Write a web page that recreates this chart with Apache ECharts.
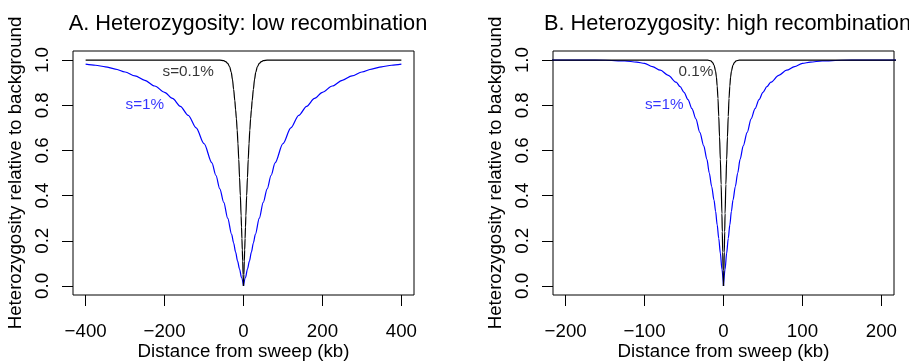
<!DOCTYPE html>
<html><head><meta charset="utf-8">
<script src="https://cdn.jsdelivr.net/npm/echarts@6/dist/echarts.min.js"></script>
<style>html,body{margin:0;padding:0;background:#fff}#c{width:909px;height:363px}</style>
</head><body><div id="c"></div>
<script>
// ---- text ----
const titles = ['A. Heterozygosity: low recombination', 'B. Heterozygosity: high recombination'];
const xName = 'Distance from sweep (kb)';
const yName = 'Heterozygosity relative to background';
// ---- ticks ----
const xTicksA = [-400, -200, 0, 200, 400];
const xTicksB = [-200, -100, 0, 100, 200];
const yTicks = [0, 0.2, 0.4, 0.6, 0.8, 1.0];
// ---- data (distance from sweep in kb, one side; curves are symmetric) ----
const aBlueDist = [0, 5, 10, 15, 20, 25, 30, 40, 50, 60, 70, 80, 100, 120, 140, 160, 180, 200, 225, 250, 275, 300, 325, 350, 375, 400];
const aBlueH    = [0, 0.037, 0.075, 0.11, 0.15, 0.19, 0.228, 0.30, 0.37, 0.43, 0.49, 0.545, 0.63, 0.70, 0.755, 0.795, 0.83, 0.857, 0.885, 0.91, 0.93, 0.947, 0.96, 0.97, 0.977, 0.982];
const aBlackDist = [0, 1, 2, 3, 4, 5, 6, 8, 10, 12, 14, 16, 18, 20, 22, 25, 28, 31, 35, 40, 45, 50, 60, 100, 200, 300, 400];
const aBlackH    = [0, 0.05, 0.11, 0.16, 0.21, 0.26, 0.31, 0.40, 0.48, 0.56, 0.63, 0.69, 0.74, 0.78, 0.82, 0.87, 0.915, 0.945, 0.97, 0.985, 0.993, 0.997, 1.0, 1.0, 1.0, 1.0, 1.0];
const bBlueDist = [0, 2, 4, 6, 8, 10, 12, 15, 18, 21, 25, 30, 35, 40, 45, 50, 55, 60, 70, 80, 90, 100, 110, 125, 150, 175, 200, 250];
const bBlueH    = [0, 0.075, 0.145, 0.21, 0.27, 0.33, 0.38, 0.44, 0.50, 0.56, 0.62, 0.68, 0.74, 0.785, 0.825, 0.857, 0.882, 0.902, 0.932, 0.955, 0.971, 0.985, 0.991, 0.996, 0.999, 1.0, 1.0, 1.0];
const bBlackDist = [0, 0.5, 1, 1.5, 2, 3, 4, 5, 6, 7, 8, 9, 10, 12, 14, 16, 20, 30, 100, 200, 250];
const bBlackH    = [0, 0.07, 0.15, 0.24, 0.32, 0.45, 0.56, 0.66, 0.75, 0.83, 0.885, 0.925, 0.95, 0.978, 0.99, 0.996, 1.0, 1.0, 1.0, 1.0, 1.0];
// ---- annotations ----
const notesA = [{ x: -140, y: 0.95, text: 's=0.1%', color: '#000000' }, { x: -250, y: 0.8, text: 's=1%', color: '#0000ff' }];
const notesB = [{ x: -35, y: 0.95, text: '0.1%', color: '#000000' }, { x: -75, y: 0.8, text: 's=1%', color: '#0000ff' }];

const FONT = "'Liberation Sans', Arial, Helvetica, sans-serif";
const BLUE = '#0000ff', BLACK = '#000000';

function half(dist, h, sign) {
  const pts = dist.map((d, i) => [sign * d, h[i]]);
  return sign < 0 ? pts.reverse() : pts;
}
function lineSeries(dist, h, color, gi) {
  return [-1, 1].map(sign => ({
    type: 'line', xAxisIndex: gi, yAxisIndex: gi, data: half(dist, h, sign),
    showSymbol: false, symbol: 'none', smooth: 0.3, smoothMonotone: 'x', clip: true,
    lineStyle: { color: color, width: 1.2 }, silent: true, z: color === BLACK ? 3 : 2
  }));
}
function noteSeries(notes, gi) {
  return {
    type: 'scatter', xAxisIndex: gi, yAxisIndex: gi, symbolSize: 1, silent: true,
    itemStyle: { color: 'rgba(0,0,0,0)' },
    data: notes.map(n => ({ value: [n.x, n.y], label: { show: true, position: 'inside', formatter: n.text, color: n.color, fontSize: 15.3, fontFamily: FONT } })),
    z: 5
  };
}
const fmtX = v => (v < 0 ? '\u2212' + Math.abs(v) : String(v));
function xAxis(gi, lim, ticks) {
  return {
    type: 'value', gridIndex: gi, min: -lim, max: lim,
    name: xName, nameLocation: 'middle', nameGap: 47, nameMoveOverlap: false,
    nameTextStyle: { color: '#000', fontSize: 18.7, fontFamily: FONT },
    axisLine: { show: false, onZero: false },
    axisTick: { show: true, customValues: ticks, length: 11, lineStyle: { color: '#000', width: 1 } },
    axisLabel: { customValues: ticks, formatter: fmtX, color: '#000', fontSize: 18.7, fontFamily: FONT, margin: 27 },
    splitLine: { show: false }
  };
}
function yAxis(gi) {
  return {
    type: 'value', gridIndex: gi, min: -0.04, max: 1.04,
    name: yName, nameLocation: 'middle', nameGap: 48, nameRotate: 90, nameMoveOverlap: false,
    nameTextStyle: { color: '#000', fontSize: 18.7, fontFamily: FONT },
    axisLine: { show: false, onZero: false },
    axisTick: { show: true, customValues: yTicks, length: 11, lineStyle: { color: '#000', width: 1 } },
    axisLabel: { customValues: yTicks, formatter: v => v.toFixed(1), rotate: 90, color: '#000', fontSize: 18.7, fontFamily: FONT, margin: 21 },
    splitLine: { show: false }
  };
}

const chart = echarts.init(document.getElementById('c'), null, { renderer: 'canvas' });
chart.setOption({
  animation: false,
  backgroundColor: '#ffffff',
  title: [
    { text: titles[0], left: 243, top: 8, textAlign: 'center', textStyle: { fontSize: 21.8, fontWeight: 'normal', color: '#000', fontFamily: FONT } },
    { text: titles[1], left: 722.5, top: 8, textAlign: 'center', textStyle: { fontSize: 21.8, fontWeight: 'normal', color: '#000', fontFamily: FONT } }
  ],
  grid: [
    { left: 73, top: 51, width: 341, height: 244, show: true, borderColor: '#000', borderWidth: 1, backgroundColor: 'transparent', containLabel: false, outerBoundsMode: 'none' },
    { left: 553, top: 51, width: 341, height: 244, show: true, borderColor: '#000', borderWidth: 1, backgroundColor: 'transparent', containLabel: false, outerBoundsMode: 'none' }
  ],
  xAxis: [xAxis(0, 432, xTicksA), xAxis(1, 216, xTicksB)],
  yAxis: [yAxis(0), yAxis(1)],
  series: [
    ...lineSeries(aBlueDist, aBlueH, BLUE, 0),
    ...lineSeries(aBlackDist, aBlackH, BLACK, 0),
    ...lineSeries(bBlueDist, bBlueH, BLUE, 1),
    ...lineSeries(bBlackDist, bBlackH, BLACK, 1),
    noteSeries(notesA, 0),
    noteSeries(notesB, 1)
  ]
});
</script></body></html>
